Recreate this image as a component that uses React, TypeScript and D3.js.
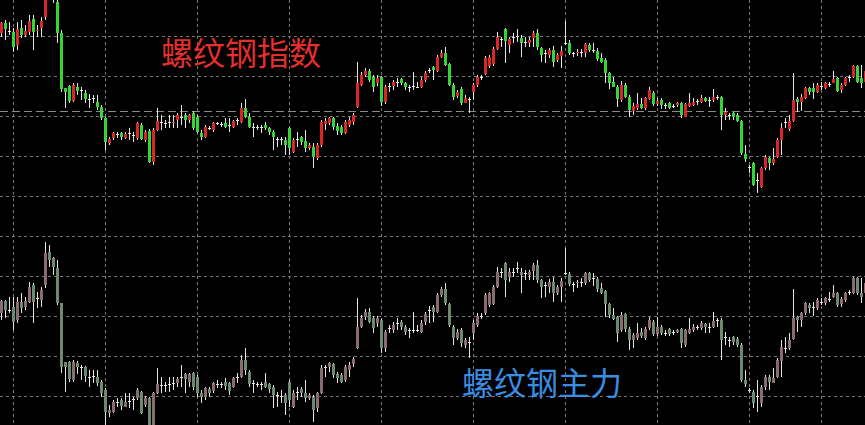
import React, { useEffect, useRef } from "react";
import * as d3 from "d3";

type OHLC = [number, number, number, number]; // open, high, low, close

// 螺纹钢指数 — one bar per slot, left to right
const indexBars: OHLC[] = [
    [3967, 3978, 3963, 3977], [3977, 3980, 3960, 3971], [3969, 3978, 3965, 3969], [3968, 3972, 3948, 3953],
    [3955, 3978, 3950, 3971], [3972, 3980, 3962, 3965], [3965, 3975, 3963, 3969], [3968, 3985, 3965, 3979],
    [3981, 3985, 3950, 3968], [3969, 3975, 3963, 3970], [3972, 3983, 3963, 3979], [3983, 4008, 3980, 4006],
    [4006, 4020, 4003, 4015], [4012, 4016, 3997, 4002], [3998, 4002, 3957, 3967], [3967, 3970, 3908, 3911],
    [3912, 3912, 3892, 3908], [3914, 3915, 3897, 3899], [3899, 3917, 3898, 3915], [3913, 3917, 3905, 3909],
    [3910, 3913, 3900, 3910], [3907, 3910, 3897, 3901], [3901, 3906, 3892, 3901], [3902, 3905, 3897, 3902],
    [3898, 3905, 3890, 3893], [3893, 3895, 3880, 3882], [3882, 3883, 3850, 3858], [3857, 3863, 3855, 3861],
    [3862, 3868, 3860, 3867], [3866, 3868, 3862, 3866], [3867, 3868, 3860, 3863], [3862, 3868, 3861, 3866],
    [3867, 3872, 3860, 3867], [3865, 3868, 3858, 3865], [3862, 3878, 3860, 3877], [3875, 3877, 3860, 3861],
    [3860, 3870, 3858, 3868], [3869, 3871, 3837, 3838], [3838, 3872, 3835, 3870], [3870, 3892, 3869, 3879],
    [3878, 3885, 3870, 3878], [3877, 3880, 3872, 3877], [3878, 3885, 3872, 3878], [3877, 3885, 3872, 3878],
    [3880, 3887, 3872, 3885], [3883, 3895, 3875, 3883], [3885, 3887, 3872, 3880], [3880, 3886, 3877, 3885],
    [3887, 3889, 3870, 3872], [3883, 3885, 3867, 3868], [3867, 3870, 3860, 3863], [3863, 3875, 3862, 3873],
    [3872, 3874, 3870, 3872], [3870, 3878, 3868, 3877], [3877, 3878, 3875, 3877], [3876, 3878, 3873, 3876],
    [3877, 3882, 3872, 3873], [3875, 3882, 3868, 3875], [3873, 3880, 3872, 3879], [3880, 3882, 3875, 3880],
    [3878, 3897, 3877, 3892], [3892, 3901, 3882, 3883], [3883, 3887, 3872, 3873], [3873, 3877, 3863, 3873],
    [3873, 3875, 3870, 3873], [3873, 3875, 3867, 3873], [3875, 3878, 3870, 3872], [3872, 3873, 3865, 3868],
    [3868, 3870, 3850, 3863], [3861, 3863, 3853, 3861], [3861, 3863, 3855, 3861], [3860, 3863, 3845, 3855],
    [3872, 3873, 3845, 3852], [3848, 3862, 3847, 3860], [3861, 3868, 3853, 3861], [3863, 3864, 3855, 3858],
    [3859, 3870, 3848, 3852], [3852, 3857, 3850, 3855], [3853, 3857, 3832, 3843], [3842, 3857, 3840, 3855],
    [3855, 3880, 3853, 3878], [3876, 3882, 3870, 3879], [3877, 3883, 3875, 3882], [3882, 3883, 3870, 3873],
    [3874, 3877, 3865, 3869], [3873, 3875, 3865, 3867], [3867, 3880, 3866, 3878], [3875, 3883, 3873, 3880],
    [3878, 3887, 3875, 3885], [3893, 3938, 3892, 3917], [3915, 3928, 3914, 3925], [3925, 3932, 3923, 3929],
    [3929, 3931, 3918, 3920], [3923, 3925, 3908, 3913], [3917, 3925, 3914, 3922], [3923, 3924, 3894, 3898],
    [3898, 3915, 3896, 3913], [3914, 3917, 3908, 3914], [3914, 3920, 3910, 3918], [3918, 3922, 3913, 3918],
    [3921, 3922, 3915, 3917], [3917, 3918, 3910, 3913], [3913, 3915, 3908, 3913], [3914, 3928, 3910, 3914],
    [3913, 3918, 3912, 3913], [3913, 3923, 3912, 3920], [3920, 3929, 3918, 3927], [3930, 3932, 3927, 3930],
    [3933, 3934, 3920, 3930], [3929, 3945, 3928, 3943], [3943, 3950, 3942, 3947], [3947, 3953, 3934, 3935],
    [3936, 3937, 3914, 3915], [3915, 3917, 3900, 3903], [3904, 3910, 3902, 3908], [3911, 3913, 3895, 3897],
    [3897, 3905, 3897, 3902], [3901, 3903, 3887, 3901], [3908, 3917, 3900, 3915], [3915, 3925, 3913, 3923],
    [3923, 3925, 3920, 3923], [3926, 3944, 3925, 3942], [3934, 3945, 3932, 3943], [3936, 3953, 3934, 3951],
    [3951, 3968, 3950, 3963], [3961, 3963, 3953, 3961], [3971, 3972, 3937, 3959], [3955, 3963, 3947, 3961],
    [3963, 3967, 3957, 3963], [3964, 3971, 3958, 3964], [3962, 3965, 3943, 3957], [3958, 3963, 3953, 3958],
    [3957, 3963, 3953, 3960], [3962, 3969, 3953, 3967], [3967, 3971, 3950, 3953], [3952, 3953, 3938, 3945],
    [3947, 3950, 3937, 3947], [3945, 3952, 3942, 3950], [3950, 3954, 3933, 3938], [3940, 3947, 3938, 3945],
    [3944, 3954, 3932, 3949], [3957, 3979, 3955, 3957], [3957, 3960, 3945, 3947], [3947, 3948, 3943, 3947],
    [3947, 3951, 3944, 3948], [3948, 3951, 3943, 3948], [3947, 3957, 3943, 3956], [3955, 3957, 3948, 3950],
    [3950, 3957, 3947, 3950], [3949, 3952, 3939, 3941], [3942, 3947, 3937, 3938], [3940, 3942, 3917, 3927],
    [3927, 3928, 3911, 3917], [3918, 3923, 3913, 3913], [3913, 3915, 3893, 3901], [3900, 3919, 3898, 3915],
    [3915, 3917, 3902, 3903], [3903, 3905, 3883, 3890], [3889, 3897, 3885, 3894], [3892, 3907, 3890, 3896],
    [3896, 3902, 3891, 3892], [3892, 3903, 3890, 3902], [3901, 3913, 3900, 3910], [3907, 3909, 3894, 3896],
    [3896, 3902, 3894, 3899], [3900, 3902, 3891, 3895], [3895, 3897, 3891, 3895], [3897, 3898, 3891, 3892],
    [3894, 3896, 3892, 3894], [3895, 3898, 3893, 3897], [3897, 3898, 3882, 3885], [3883, 3897, 3883, 3896],
    [3894, 3907, 3893, 3897], [3895, 3902, 3894, 3898], [3899, 3901, 3895, 3899], [3898, 3905, 3897, 3902],
    [3902, 3903, 3898, 3899], [3900, 3903, 3893, 3900], [3900, 3911, 3898, 3903], [3903, 3905, 3900, 3903],
    [3903, 3904, 3870, 3885], [3885, 3892, 3880, 3888], [3885, 3887, 3880, 3885], [3887, 3888, 3880, 3883],
    [3885, 3887, 3878, 3879], [3879, 3880, 3845, 3847], [3846, 3855, 3838, 3841], [3833, 3835, 3827, 3833],
    [3837, 3838, 3814, 3815], [3820, 3827, 3807, 3820], [3813, 3833, 3812, 3832], [3832, 3845, 3830, 3843],
    [3842, 3843, 3830, 3837], [3837, 3852, 3835, 3841], [3843, 3862, 3842, 3860], [3860, 3877, 3845, 3872],
    [3878, 3882, 3872, 3878], [3871, 3885, 3869, 3879], [3879, 3927, 3878, 3900], [3901, 3903, 3888, 3898],
    [3898, 3906, 3889, 3903], [3902, 3913, 3901, 3912], [3912, 3913, 3905, 3908], [3912, 3917, 3901, 3908],
    [3908, 3917, 3907, 3915], [3914, 3918, 3910, 3914], [3912, 3918, 3911, 3917], [3916, 3918, 3913, 3916],
    [3917, 3929, 3917, 3921], [3922, 3923, 3908, 3909], [3910, 3917, 3907, 3915], [3915, 3923, 3914, 3922],
    [3923, 3925, 3918, 3923], [3923, 3935, 3922, 3934], [3934, 3935, 3917, 3918], [3922, 3935, 3912, 3917],
    [3918, 3930, 3915, 3929],
];

// 螺纹钢主力
const mainBars: OHLC[] = [
    [3687, 3700, 3680, 3699], [3699, 3700, 3682, 3690], [3690, 3703, 3687, 3690], [3693, 3703, 3670, 3678],
    [3680, 3703, 3677, 3698], [3698, 3707, 3687, 3692], [3693, 3703, 3690, 3699], [3698, 3718, 3697, 3713],
    [3715, 3717, 3677, 3698], [3702, 3708, 3692, 3702], [3700, 3713, 3693, 3710], [3715, 3758, 3712, 3747],
    [3748, 3755, 3733, 3740], [3742, 3743, 3725, 3733], [3732, 3740, 3695, 3697], [3697, 3697, 3627, 3633],
    [3638, 3638, 3608, 3633], [3638, 3639, 3618, 3621], [3620, 3640, 3618, 3638], [3637, 3639, 3626, 3633],
    [3633, 3635, 3620, 3633], [3633, 3634, 3618, 3624], [3623, 3630, 3613, 3623], [3624, 3630, 3617, 3624],
    [3623, 3630, 3614, 3617], [3618, 3620, 3603, 3607], [3610, 3612, 3572, 3588], [3587, 3595, 3583, 3590],
    [3588, 3600, 3587, 3598], [3598, 3602, 3593, 3598], [3600, 3602, 3590, 3594], [3593, 3607, 3593, 3598],
    [3599, 3607, 3592, 3599], [3601, 3603, 3590, 3601], [3602, 3612, 3600, 3610], [3608, 3609, 3586, 3587],
    [3595, 3604, 3593, 3602], [3602, 3603, 3573, 3575], [3575, 3608, 3573, 3607], [3607, 3632, 3606, 3616],
    [3615, 3623, 3607, 3615], [3615, 3618, 3608, 3615], [3616, 3623, 3608, 3616], [3617, 3623, 3610, 3617],
    [3617, 3623, 3613, 3621], [3623, 3635, 3613, 3623], [3626, 3627, 3607, 3621], [3618, 3627, 3613, 3626],
    [3627, 3628, 3610, 3613], [3623, 3625, 3603, 3607], [3607, 3610, 3597, 3603], [3603, 3613, 3600, 3612],
    [3611, 3613, 3603, 3607], [3609, 3618, 3607, 3617], [3616, 3620, 3612, 3616], [3616, 3618, 3612, 3616],
    [3618, 3622, 3610, 3614], [3617, 3618, 3605, 3609], [3613, 3623, 3612, 3622], [3623, 3627, 3617, 3623],
    [3623, 3645, 3622, 3640], [3640, 3652, 3625, 3630], [3628, 3630, 3613, 3616], [3617, 3620, 3607, 3617],
    [3616, 3618, 3613, 3616], [3616, 3618, 3610, 3616], [3618, 3627, 3612, 3613], [3616, 3617, 3607, 3611],
    [3613, 3615, 3592, 3605], [3605, 3608, 3593, 3605], [3604, 3610, 3597, 3604], [3605, 3607, 3585, 3597],
    [3618, 3620, 3593, 3600], [3593, 3610, 3592, 3607], [3608, 3613, 3600, 3608], [3611, 3613, 3603, 3607],
    [3607, 3620, 3598, 3602], [3602, 3607, 3600, 3605], [3603, 3605, 3578, 3590], [3592, 3608, 3588, 3607],
    [3607, 3635, 3606, 3632], [3633, 3635, 3623, 3633], [3633, 3638, 3628, 3637], [3636, 3637, 3622, 3625],
    [3626, 3628, 3617, 3622], [3625, 3627, 3617, 3618], [3620, 3635, 3618, 3633], [3630, 3638, 3623, 3635],
    [3636, 3643, 3633, 3641], [3652, 3702, 3651, 3673], [3673, 3685, 3672, 3682], [3683, 3691, 3680, 3688],
    [3688, 3692, 3677, 3678], [3682, 3684, 3667, 3672], [3677, 3684, 3673, 3682], [3680, 3681, 3647, 3652],
    [3652, 3670, 3648, 3668], [3672, 3675, 3667, 3672], [3670, 3678, 3667, 3675], [3677, 3682, 3670, 3677],
    [3678, 3680, 3670, 3673], [3673, 3675, 3665, 3668], [3670, 3672, 3662, 3670], [3670, 3688, 3667, 3670],
    [3670, 3675, 3668, 3670], [3668, 3680, 3667, 3677], [3678, 3688, 3675, 3686], [3690, 3694, 3677, 3690],
    [3693, 3695, 3678, 3688], [3688, 3707, 3687, 3705], [3705, 3713, 3703, 3711], [3711, 3717, 3695, 3697],
    [3696, 3697, 3673, 3675], [3673, 3675, 3655, 3662], [3662, 3671, 3660, 3668], [3670, 3672, 3653, 3657],
    [3655, 3662, 3652, 3660], [3658, 3663, 3642, 3658], [3667, 3680, 3660, 3677], [3675, 3687, 3673, 3684],
    [3684, 3687, 3681, 3684], [3687, 3707, 3685, 3705], [3695, 3708, 3693, 3707], [3696, 3715, 3695, 3713],
    [3713, 3733, 3712, 3728], [3728, 3732, 3722, 3728], [3737, 3738, 3703, 3720], [3723, 3732, 3718, 3728],
    [3728, 3732, 3723, 3728], [3732, 3738, 3727, 3732], [3728, 3732, 3707, 3725], [3727, 3730, 3720, 3727],
    [3725, 3730, 3720, 3728], [3729, 3737, 3720, 3735], [3735, 3740, 3717, 3720], [3720, 3721, 3702, 3713],
    [3715, 3718, 3703, 3715], [3713, 3721, 3707, 3718], [3718, 3723, 3698, 3707], [3707, 3715, 3705, 3713],
    [3713, 3722, 3698, 3719], [3727, 3752, 3725, 3727], [3726, 3728, 3714, 3716], [3716, 3718, 3708, 3716],
    [3717, 3720, 3712, 3718], [3718, 3722, 3713, 3718], [3717, 3728, 3715, 3727], [3727, 3728, 3718, 3720],
    [3722, 3727, 3714, 3722], [3721, 3723, 3708, 3711], [3712, 3717, 3706, 3707], [3709, 3710, 3683, 3696],
    [3696, 3697, 3682, 3685], [3685, 3692, 3680, 3681], [3683, 3684, 3658, 3667], [3670, 3688, 3668, 3685],
    [3686, 3687, 3668, 3671], [3671, 3673, 3650, 3660], [3660, 3667, 3652, 3665], [3662, 3677, 3660, 3667],
    [3668, 3672, 3662, 3664], [3662, 3673, 3660, 3671], [3672, 3683, 3670, 3680], [3678, 3680, 3664, 3666],
    [3666, 3683, 3664, 3673], [3673, 3675, 3665, 3667], [3667, 3670, 3664, 3667], [3671, 3672, 3664, 3666],
    [3668, 3670, 3665, 3668], [3668, 3671, 3667, 3670], [3671, 3672, 3652, 3657], [3655, 3671, 3653, 3670],
    [3667, 3682, 3666, 3671], [3670, 3676, 3668, 3673], [3673, 3675, 3670, 3673], [3672, 3679, 3670, 3677],
    [3676, 3677, 3667, 3673], [3673, 3677, 3667, 3673], [3673, 3688, 3672, 3679], [3680, 3682, 3673, 3680],
    [3680, 3682, 3640, 3660], [3663, 3668, 3655, 3663], [3660, 3663, 3653, 3660], [3663, 3664, 3655, 3658],
    [3661, 3663, 3653, 3655], [3655, 3657, 3618, 3620], [3620, 3630, 3613, 3616], [3610, 3612, 3607, 3610],
    [3608, 3610, 3592, 3597], [3604, 3620, 3588, 3604], [3597, 3615, 3593, 3613], [3613, 3625, 3610, 3623],
    [3623, 3625, 3610, 3618], [3617, 3632, 3617, 3622], [3623, 3642, 3622, 3640], [3639, 3660, 3623, 3653],
    [3652, 3663, 3647, 3652], [3652, 3667, 3650, 3660], [3661, 3711, 3660, 3682], [3683, 3684, 3668, 3680],
    [3680, 3688, 3673, 3687], [3687, 3698, 3685, 3697], [3695, 3697, 3687, 3692], [3693, 3698, 3684, 3693],
    [3692, 3702, 3690, 3700], [3698, 3702, 3695, 3698], [3697, 3703, 3695, 3702], [3701, 3708, 3698, 3701],
    [3703, 3715, 3702, 3707], [3707, 3708, 3693, 3695], [3696, 3703, 3693, 3701], [3700, 3708, 3698, 3707],
    [3708, 3710, 3705, 3708], [3707, 3723, 3706, 3722], [3722, 3723, 3705, 3707], [3707, 3722, 3697, 3703],
    [3707, 3720, 3705, 3717],
];

// dotted grid: time separators (bar slots) and price levels
const gridBars = [3, 26, 49, 72, 95, 118, 141, 164, 187, 205];
const gridPrices = [3604, 3644, 3684, 3724, 3764, 3804, 3844, 3884, 3924, 3964];
const lastPrice = 3889;

const indexTitle = "螺纹钢指数";
const mainTitle = "螺纹钢主力";

const W = 865;
const H = 425;

export default function App() {
    const svgRef = useRef<SVGSVGElement | null>(null);

    useEffect(() => {
        if (!svgRef.current) return;
        const svg = d3.select(svgRef.current);
        svg.selectAll("*").remove();

        // 4px per bar, first bar centred at x=1
        const x = d3.scaleLinear().domain([0, 1]).range([1, 5]);
        const y = d3.scaleLinear().domain([3575, 4000]).range([H, 0]);

        svg.append("rect").attr("width", W).attr("height", H).attr("fill", "#000");

        const grid = svg
            .append("g")
            .attr("stroke", "#767676")
            .attr("stroke-width", 1)
            .attr("stroke-dasharray", "3,3")
            .attr("shape-rendering", "crispEdges");

        grid.selectAll(".gv")
            .data(gridBars)
            .join("line")
            .attr("class", "gv")
            .attr("x1", (d) => x(d) + 0.5)
            .attr("x2", (d) => x(d) + 0.5)
            .attr("y1", 0)
            .attr("y2", H);

        grid.selectAll(".gh")
            .data(gridPrices)
            .join("line")
            .attr("class", "gh")
            .attr("x1", 0)
            .attr("x2", W)
            .attr("y1", (d) => Math.round(y(d)) + 0.5)
            .attr("y2", (d) => Math.round(y(d)) + 0.5);

        // last price line
        svg.append("line")
            .attr("x1", 0)
            .attr("x2", W)
            .attr("y1", Math.round(y(lastPrice)) + 0.5)
            .attr("y2", Math.round(y(lastPrice)) + 0.5)
            .attr("stroke", "#8a8a8a")
            .attr("stroke-dasharray", "8,4")
            .attr("shape-rendering", "crispEdges");

        const drawCandles = (bars: OHLC[], up: string, down: string) => {
            const g = svg.append("g").attr("shape-rendering", "crispEdges");
            const bar = g.selectAll("g").data(bars).join("g");
            // wick
            bar.append("rect")
                .attr("x", (_, i) => x(i))
                .attr("width", 1)
                .attr("y", (d) => y(d[1]))
                .attr("height", (d) => Math.max(1, y(d[2]) - y(d[1])))
                .attr("fill", "#e6e6e6");
            // body
            bar.append("rect")
                .attr("x", (_, i) => x(i) - 1)
                .attr("width", 3)
                .attr("y", (d) => y(Math.max(d[0], d[3])))
                .attr("height", (d) => Math.max(1, Math.abs(y(d[0]) - y(d[3]))))
                .attr("fill", (d) => (d[3] > d[0] ? up : d[3] < d[0] ? down : "#e6e6e6"));
        };

        drawCandles(indexBars, "#dc2626", "#33d633");
        drawCandles(mainBars, "#8a6b6e", "#6c8a70");

        svg.append("text")
            .attr("x", 161)
            .attr("y", 65)
            .attr("font-family", "'Noto Sans CJK SC', sans-serif")
            .attr("font-size", 32)
            .attr("fill", "#e2302c")
            .text(indexTitle);

        svg.append("text")
            .attr("x", 462)
            .attr("y", 395)
            .attr("font-family", "'Noto Sans CJK SC', sans-serif")
            .attr("font-size", 32)
            .attr("fill", "#3a8ee2")
            .text(mainTitle);
    }, []);

    return (
        <div style={{ position: "absolute", left: 0, top: 0, width: W, height: H, background: "#000" }}>
            <svg ref={svgRef} width={W} height={H} style={{ display: "block" }} />
        </div>
    );
}
